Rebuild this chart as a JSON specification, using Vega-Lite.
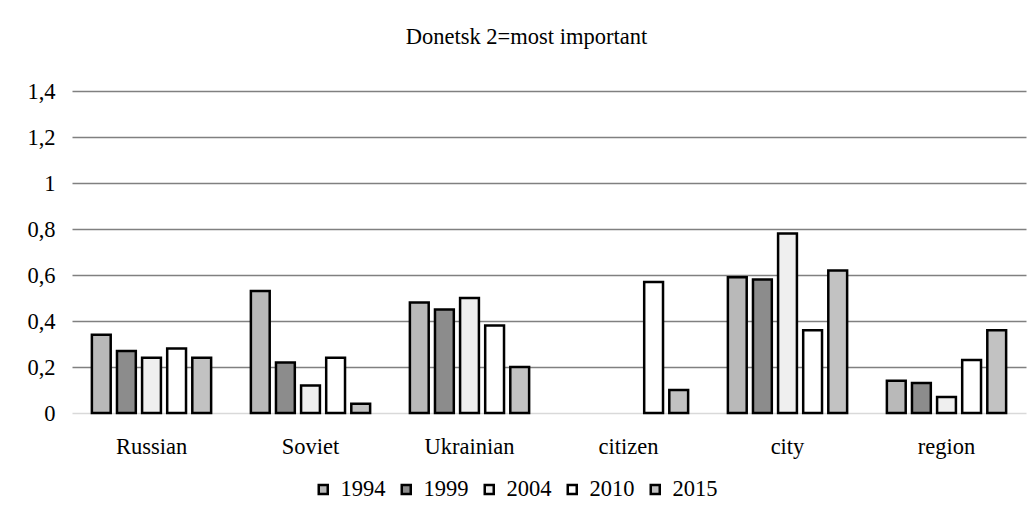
{
  "$schema": "https://vega.github.io/schema/vega-lite/v6.json",
  "width": 954,
  "height": 322,
  "padding": {"left": 26, "top": 25, "right": 9, "bottom": 10},
  "background": "white",
  "title": {
    "text": "Donetsk 2=most important",
    "font": "Times New Roman, Liberation Serif, serif",
    "fontSize": 22.5,
    "fontWeight": "normal",
    "color": "#000000",
    "anchor": "middle",
    "frame": "bounds",
    "offset": 32
  },
  "data": {
    "values": [
      {"category": "Russian", "year": "1994", "value": 0.34},
      {"category": "Russian", "year": "1999", "value": 0.27},
      {"category": "Russian", "year": "2004", "value": 0.24},
      {"category": "Russian", "year": "2010", "value": 0.28},
      {"category": "Russian", "year": "2015", "value": 0.24},
      {"category": "Soviet", "year": "1994", "value": 0.53},
      {"category": "Soviet", "year": "1999", "value": 0.22},
      {"category": "Soviet", "year": "2004", "value": 0.12},
      {"category": "Soviet", "year": "2010", "value": 0.24},
      {"category": "Soviet", "year": "2015", "value": 0.04},
      {"category": "Ukrainian", "year": "1994", "value": 0.48},
      {"category": "Ukrainian", "year": "1999", "value": 0.45},
      {"category": "Ukrainian", "year": "2004", "value": 0.50},
      {"category": "Ukrainian", "year": "2010", "value": 0.38},
      {"category": "Ukrainian", "year": "2015", "value": 0.20},
      {"category": "citizen", "year": "2010", "value": 0.57},
      {"category": "citizen", "year": "2015", "value": 0.10},
      {"category": "city", "year": "1994", "value": 0.59},
      {"category": "city", "year": "1999", "value": 0.58},
      {"category": "city", "year": "2004", "value": 0.78},
      {"category": "city", "year": "2010", "value": 0.36},
      {"category": "city", "year": "2015", "value": 0.62},
      {"category": "region", "year": "1994", "value": 0.14},
      {"category": "region", "year": "1999", "value": 0.13},
      {"category": "region", "year": "2004", "value": 0.07},
      {"category": "region", "year": "2010", "value": 0.23},
      {"category": "region", "year": "2015", "value": 0.36}
    ]
  },
  "mark": {"type": "bar", "stroke": "#000000", "strokeWidth": 2.5, "strokeJoin": "miter"},
  "encoding": {
    "x": {
      "field": "category",
      "type": "nominal",
      "sort": ["Russian", "Soviet", "Ukrainian", "citizen", "city", "region"],
      "scale": {"paddingInner": 0.25, "paddingOuter": 0.125},
      "axis": {
        "title": null,
        "labelAngle": 0,
        "labelFont": "Times New Roman, Liberation Serif, serif",
        "labelFontSize": 22.5,
        "labelColor": "#000000",
        "labelPadding": 22,
        "ticks": false,
        "domain": false,
        "grid": false
      }
    },
    "xOffset": {
      "field": "year",
      "type": "nominal",
      "scale": {"domain": ["1994", "1999", "2004", "2010", "2015"], "paddingInner": 0.25, "paddingOuter": 0}
    },
    "y": {
      "field": "value",
      "type": "quantitative",
      "scale": {"domain": [0, 1.4], "nice": false},
      "axis": {
        "title": null,
        "values": [0, 0.2, 0.4, 0.6, 0.8, 1, 1.2, 1.4],
        "format": ".1~f",
        "labelExpr": "replace(datum.label, '.', ',')",
        "labelFont": "Times New Roman, Liberation Serif, serif",
        "labelFontSize": 22.5,
        "labelColor": "#000000",
        "labelPadding": 17,
        "ticks": false,
        "domain": false,
        "grid": true,
        "gridColor": {"condition": {"test": "datum.value === 0", "value": "#d9d9d9"}, "value": "#808080"},
        "gridWidth": 1.5
      }
    },
    "fill": {
      "field": "year",
      "type": "nominal",
      "scale": {
        "domain": ["1994", "1999", "2004", "2010", "2015"],
        "range": ["#b9b9b9", "#8c8c8c", "#efefef", "#ffffff", "#c2c2c2"]
      },
      "legend": {
        "title": null,
        "orient": "none",
        "legendX": 240,
        "legendY": 387,
        "direction": "horizontal",
        "symbolType": "square",
        "symbolSize": 81,
        "symbolStrokeColor": "#000000",
        "symbolStrokeWidth": 2.5,
        "labelFont": "Times New Roman, Liberation Serif, serif",
        "labelFontSize": 22.5,
        "labelColor": "#000000",
        "labelOffset": 6,
        "columnPadding": 9
      }
    }
  },
  "config": {
    "view": {"stroke": null}
  }
}
